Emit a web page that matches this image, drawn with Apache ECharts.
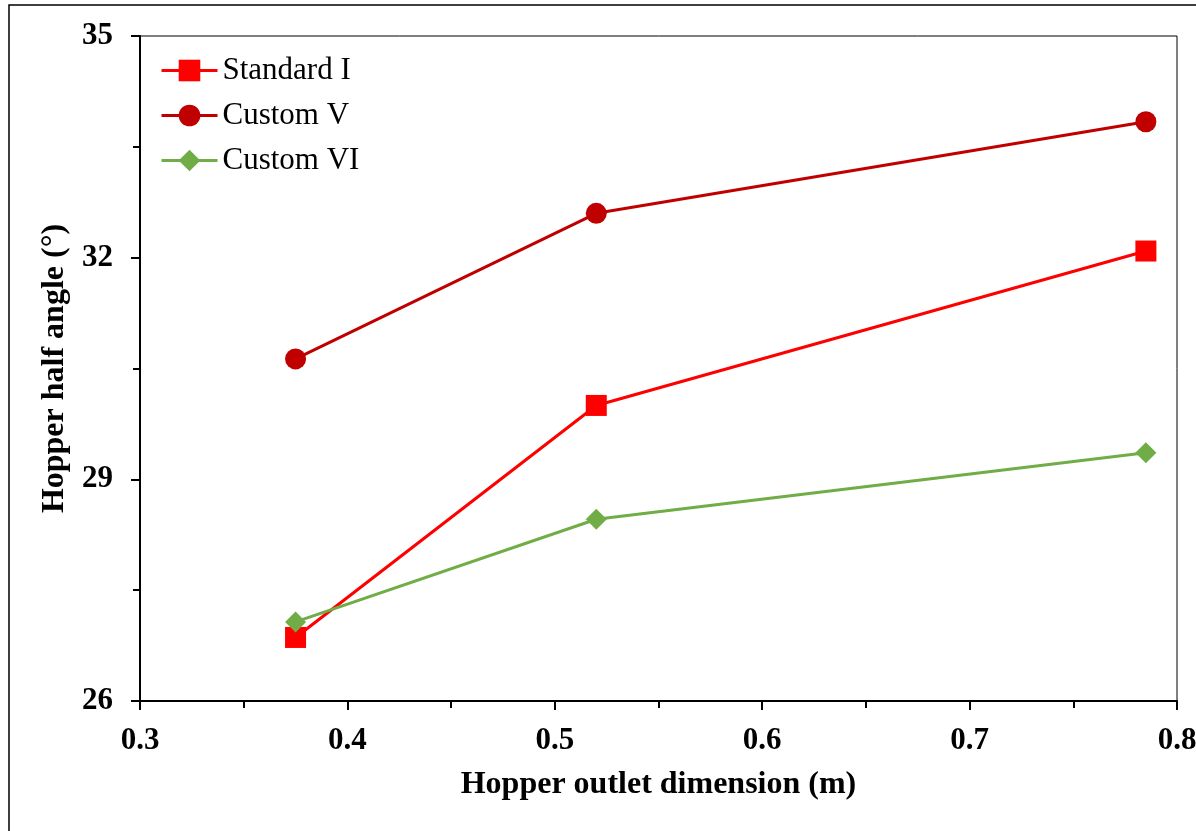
<!DOCTYPE html>
<html>
<head>
<meta charset="utf-8">
<script src="https://cdn.jsdelivr.net/npm/echarts@6/dist/echarts.min.js"></script>
<style>
  html, body { margin: 0; padding: 0; background: #fff; }
  #chart { width: 1196px; height: 831px; }
</style>
</head>
<body>
<div id="chart"></div>
<script>
var outlet = [0.375, 0.52, 0.785];
var standardI = [26.86, 30.0, 32.09];
var customV = [30.63, 32.6, 33.84];
var customVI = [27.07, 28.46, 29.36];
var seriesNames = ['Standard I', 'Custom V', 'Custom VI'];

function pairs(xs, ys) {
  return xs.map(function (x, i) { return [x, ys[i]]; });
}

var font = 'Liberation Serif';
var myChart = echarts.init(document.getElementById('chart'));
var option = {
  animation: false,
  graphic: [{
    type: 'rect',
    shape: { x: 9, y: 5, width: 1300, height: 1000 },
    style: { fill: 'none', stroke: '#000', lineWidth: 1.5 },
    silent: true
  }],
  legend: {
    data: seriesNames,
    orient: 'vertical',
    left: 155,
    top: 50,
    itemWidth: 56,
    itemHeight: 27,
    itemGap: 14,
    lineStyle: { width: 3 },
    textStyle: { fontFamily: font, fontSize: 31, color: '#000' }
  },
  grid: {
    left: 140, right: 19, top: 36, bottom: 130,
    outerBoundsMode: 'none',
    show: true, borderColor: '#000', borderWidth: 1
  },
  xAxis: {
    type: 'value',
    min: 0.3, max: 0.8, interval: 0.1,
    name: 'Hopper outlet dimension (m)',
    nameLocation: 'middle',
    nameGap: 68,
    nameTextStyle: { fontFamily: font, fontSize: 32, fontWeight: 'bold', color: '#000' },
    axisLine: { lineStyle: { color: '#000', width: 2 } },
    axisTick: { inside: false, length: 9, lineStyle: { color: '#000', width: 2 } },
    minorTick: { show: true, splitNumber: 2, length: 7, lineStyle: { color: '#000', width: 2 } },
    splitLine: { show: false },
    axisLabel: {
      margin: 24,
      fontFamily: font, fontSize: 31, fontWeight: 'bold', color: '#000',
      formatter: function (v) { return v.toFixed(1); }
    }
  },
  yAxis: {
    type: 'value',
    min: 26, max: 35, interval: 3,
    name: 'Hopper half angle (°)',
    nameLocation: 'middle',
    nameGap: 65,
    nameTextStyle: { fontFamily: font, fontSize: 32, fontWeight: 'bold', color: '#000' },
    axisLine: { lineStyle: { color: '#000', width: 2 } },
    axisTick: { inside: false, length: 9, lineStyle: { color: '#000', width: 2 } },
    minorTick: { show: true, splitNumber: 2, length: 7, lineStyle: { color: '#000', width: 2 } },
    splitLine: { show: false },
    axisLabel: { margin: 27, fontFamily: font, fontSize: 31, fontWeight: 'bold', color: '#000' }
  },
  series: [
    {
      name: seriesNames[0], type: 'line', data: pairs(outlet, standardI),
      symbol: 'rect', symbolSize: 21,
      itemStyle: { color: '#FF0000' }, lineStyle: { color: '#FF0000', width: 3 }
    },
    {
      name: seriesNames[1], type: 'line', data: pairs(outlet, customV),
      symbol: 'circle', symbolSize: 21,
      itemStyle: { color: '#C00000' }, lineStyle: { color: '#C00000', width: 3 }
    },
    {
      name: seriesNames[2], type: 'line', data: pairs(outlet, customVI),
      symbol: 'diamond', symbolSize: 21,
      itemStyle: { color: '#70AD47' }, lineStyle: { color: '#70AD47', width: 3 }
    }
  ]
};
myChart.setOption(option);
</script>
</body>
</html>
